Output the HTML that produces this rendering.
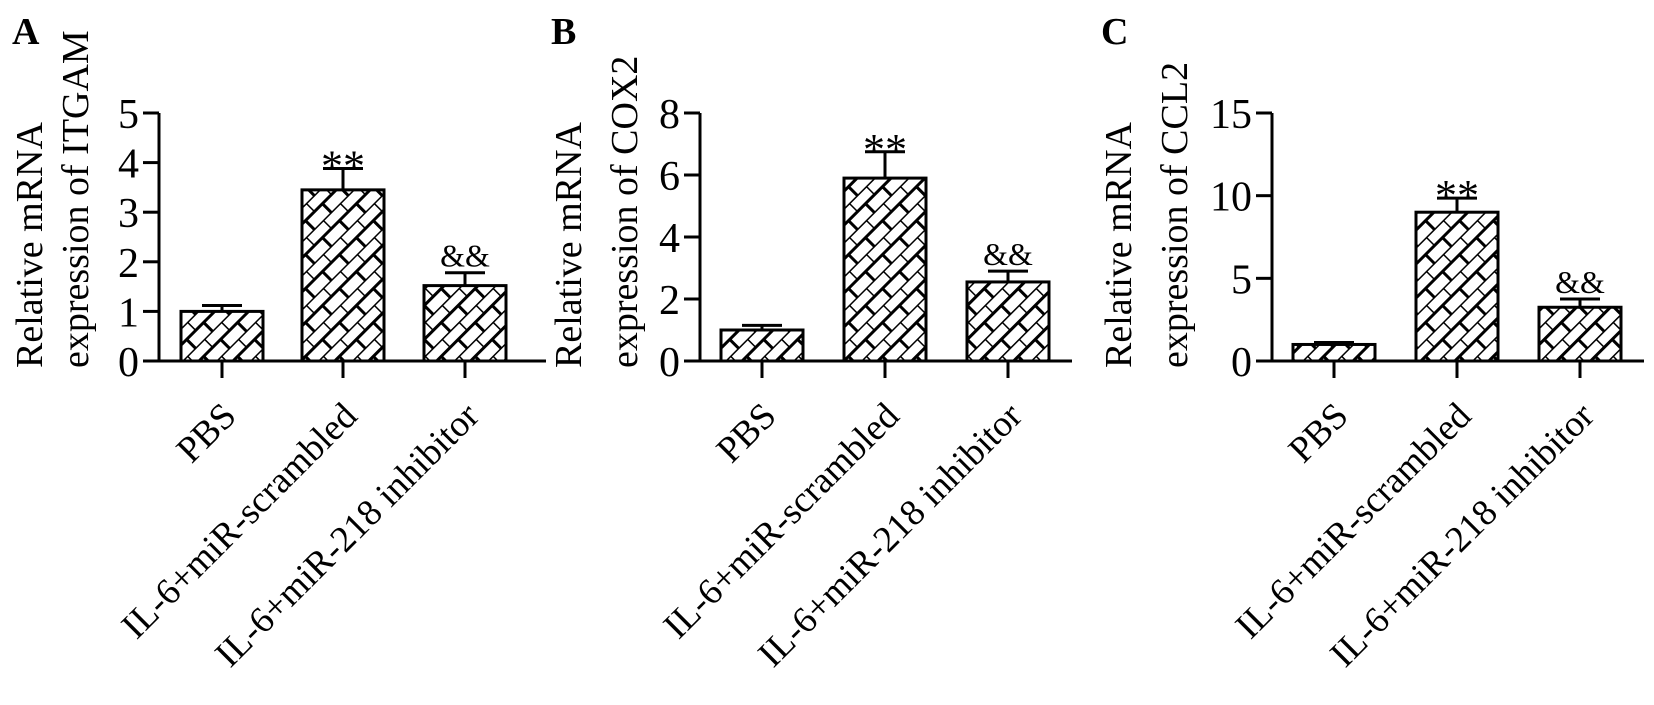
<!DOCTYPE html>
<html><head><meta charset="utf-8"><style>
html,body{margin:0;padding:0;background:#fff;}
svg{display:block;font-family:"Liberation Serif",serif;}
</style></head><body>
<svg id="fig" width="1654" height="705" viewBox="0 0 1654 705" xmlns="http://www.w3.org/2000/svg">
<defs>
<pattern id="brick" patternUnits="userSpaceOnUse" width="24" height="24" patternTransform="rotate(-45)">
<rect width="24" height="24" fill="#fff"/>
<line x1="0" y1="0" x2="24" y2="0" stroke="#000" stroke-width="3"/>
<line x1="0" y1="12" x2="24" y2="12" stroke="#000" stroke-width="3"/>
<line x1="0" y1="0" x2="0" y2="12" stroke="#000" stroke-width="3"/>
<line x1="12" y1="12" x2="12" y2="24" stroke="#000" stroke-width="3"/>
</pattern>
</defs>
</svg>
<script>
const categories = ["PBS", "IL-6+miR-scrambled", "IL-6+miR-218 inhibitor"];
const itgamValues = [1.0, 3.45, 1.52];
const itgamErrors = [0.12, 0.43, 0.26];
const cox2Values = [1.0, 5.9, 2.55];
const cox2Errors = [0.15, 0.85, 0.35];
const ccl2Values = [1.0, 9.0, 3.25];
const ccl2Errors = [0.12, 0.85, 0.5];
const itgamTicks = [0, 1, 2, 3, 4, 5];
const cox2Ticks = [0, 2, 4, 6, 8];
const ccl2Ticks = [0, 5, 10, 15];
const sigMarks = ["", "**", "&&"];

const NS = "http://www.w3.org/2000/svg";
const svg = document.getElementById("fig");
function mk(tag, attrs, parent, text) {
  const e = document.createElementNS(NS, tag);
  for (const k in attrs) e.setAttribute(k, attrs[k]);
  if (text !== undefined) e.textContent = text;
  (parent || svg).appendChild(e);
  return e;
}

const panels = [
  {id:"a", letter:"A", letterX:12, ax:159, xEnd:546, bars:[181,302,424], vals:itgamValues, errs:itgamErrors, ticks:itgamTicks, gene:"ITGAM", t1:42, t2:88},
  {id:"b", letter:"B", letterX:551, ax:700, xEnd:1072, bars:[721,844,967], vals:cox2Values, errs:cox2Errors, ticks:cox2Ticks, gene:"COX2", t1:581, t2:637},
  {id:"c", letter:"C", letterX:1101, ax:1272, xEnd:1644, bars:[1293,1416,1539], vals:ccl2Values, errs:ccl2Errors, ticks:ccl2Ticks, gene:"CCL2", t1:1131, t2:1187}
];
const Y0 = 361, YTOP = 113, BW = 82;

panels.forEach(p => {
  const g = mk("g", {});
  
  
  const maxT = p.ticks[p.ticks.length - 1];
  const y = v => Y0 - (v / maxT) * (Y0 - YTOP);

  const L = mk("text", {x:p.letterX, y:44, "font-size":38, "font-weight":"bold"}, g, p.letter);
  
  

  const cy = 368;
  const t1 = mk("text", {x:p.t1, y:cy, "font-size":38, "text-anchor":"start", transform:`rotate(-90 ${p.t1} ${cy})`}, g, "Relative mRNA");
  
  
  const t2 = mk("text", {x:p.t2, y:cy, "font-size":38, "text-anchor":"start", transform:`rotate(-90 ${p.t2} ${cy})`}, g, "expression of " + p.gene);
  
  

  const ya = mk("line", {x1:p.ax, y1:YTOP, x2:p.ax, y2:Y0, stroke:"#000", "stroke-width":3}, g);
  
  
  const xa = mk("line", {x1:p.ax - 16, y1:Y0, x2:p.xEnd, y2:Y0, stroke:"#000", "stroke-width":3}, g);
  
  

  p.ticks.forEach(t => {
    const ty = y(t);
    const tk = mk("line", {x1:p.ax - 16, y1:ty, x2:p.ax, y2:ty, stroke:"#000", "stroke-width":3}, g);
    
    
    const tl = mk("text", {x:p.ax - 20, y:ty + 15, "font-size":42, "text-anchor":"end"}, g, String(t));
    
    
  });

  categories.forEach((c, i) => {
    const bx = p.bars[i], cx = bx + BW / 2;
    const v = p.vals[i], e = p.errs[i];
    const top = y(v + e);
    const el = mk("line", {x1:cx, y1:y(v), x2:cx, y2:top, stroke:"#000", "stroke-width":3}, g);
    
    
    const cap = mk("line", {x1:cx - 20, y1:top, x2:cx + 20, y2:top, stroke:"#000", "stroke-width":3}, g);
    
    
    const r = mk("rect", {x:bx, y:y(v), width:BW, height:Y0 - y(v), fill:"url(#brick)", stroke:"#000", "stroke-width":3}, g);
    
    
    if (sigMarks[i]) {
      const isStar = sigMarks[i] === "**";
      const s = mk("text", {x:cx, y: top - (isStar ? -12 : 6), "font-size": isStar ? 44 : 32, "text-anchor":"middle"}, g, sigMarks[i]);
      
      
    }
    const xt = mk("line", {x1:cx, y1:Y0, x2:cx, y2:Y0 + 17, stroke:"#000", "stroke-width":3}, g);
    
    
    const lx = cx + 16, ly = 418;
    const cl = mk("text", {x:lx, y:ly, "font-size":37, "text-anchor":"end", transform:`rotate(-45 ${lx} ${ly})`}, g, c);
    
    
  });
});
</script>
</body></html>
